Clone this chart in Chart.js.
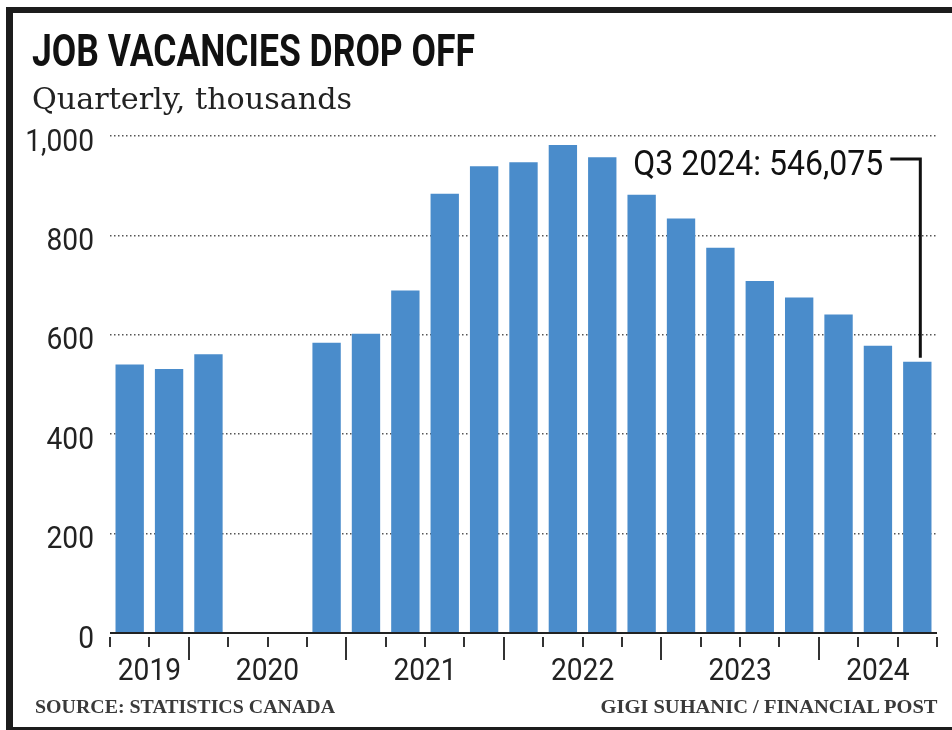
<!DOCTYPE html>
<html><head><meta charset="utf-8">
<script src="https://cdn.jsdelivr.net/npm/chart.js@4.4.1/dist/chart.umd.min.js"></script>
<style>
html,body{margin:0;padding:0;background:#fff;}
#wrap{position:relative;width:952px;height:730px;overflow:hidden;background:#fff;}
#frame{position:absolute;left:6px;top:7px;width:1000px;height:714px;border-left:7px solid #1c1c1c;border-top:6px solid #1c1c1c;border-bottom:6px solid #1c1c1c;}
canvas{position:absolute;left:0;top:0;}
.t{position:absolute;white-space:nowrap;display:inline-block;line-height:1;transform-origin:0 0;}
#title{left:32px;top:29px;font-family:Roboto,sans-serif;font-weight:700;font-size:44px;color:#111;}
#sub{left:32px;top:83.6px;font-family:'DejaVu Serif',serif;font-size:30px;color:#222;}
#src{left:35px;top:697px;font-family:'Liberation Serif',serif;font-weight:700;font-size:19px;color:#3a3a3a;}
#credit{right:15px;top:697px;font-family:'Liberation Serif',serif;font-weight:700;font-size:19px;color:#3a3a3a;transform-origin:100% 0;}
</style></head>
<body>
<div id="wrap">
  <canvas id="c" width="952" height="730"></canvas>
  <div id="frame"></div>
  <div class="t" id="title">JOB VACANCIES DROP OFF</div>
  <div class="t" id="sub">Quarterly, thousands</div>
  <div class="t" id="src">SOURCE: STATISTICS CANADA</div>
  <div class="t" id="credit">GIGI SUHANIC / FINANCIAL POST</div>
</div>
<script>
// ---- data ----
const quarters = ['2019 Q3','2019 Q4',
  '2020 Q1','2020 Q2','2020 Q3','2020 Q4',
  '2021 Q1','2021 Q2','2021 Q3','2021 Q4',
  '2022 Q1','2022 Q2','2022 Q3','2022 Q4',
  '2023 Q1','2023 Q2','2023 Q3','2023 Q4',
  '2024 Q1','2024 Q2','2024 Q3'];
const vacancies = [540, 531,
  561, null, null, 584,
  602, 689, 884, 939,
  947, 982, 957, 882,
  834, 775, 708, 675,
  641, 578, 546];
const yTicks = [0, 200, 400, 600, 800, 1000];
const calloutLabel = 'Q3 2024: 546,075';

// ---- fit HTML text widths ----
function fit(id, w){
  const el = document.getElementById(id);
  const r = el.getBoundingClientRect().width;
  el.style.transform = 'scaleX(' + (w / r) + ')';
}
fit('title', 443); fit('sub', 320); fit('src', 300); fit('credit', 337);

const yearOf = q => q.split(' ')[0];

const decor = {
  id: 'decor',
  afterDraw(chart){
    const {ctx, chartArea: a, scales: {x, y}} = chart;
    const n = quarters.length;
    const y0 = y.getPixelForValue(0);
    ctx.save();
    // baseline
    ctx.strokeStyle = '#222'; ctx.lineWidth = 2;
    ctx.beginPath(); ctx.moveTo(a.left, y0); ctx.lineTo(a.right, y0); ctx.stroke();
    // y labels
    ctx.fillStyle = '#222'; ctx.font = '32px Roboto'; ctx.textAlign = 'right'; ctx.textBaseline = 'alphabetic';
    y.ticks.forEach(t => {
      const py = y.getPixelForValue(t.value);
      ctx.save(); ctx.translate(94, py + 14.5); ctx.scale(0.88, 1);
      ctx.fillText(t.value.toLocaleString('en-US'), 0, 0); ctx.restore();
    });
    // quarter boundaries
    const slot = x.getPixelForValue(1) - x.getPixelForValue(0);
    const bx = i => i < n ? x.getPixelForValue(i) - slot / 2 : x.getPixelForValue(n - 1) + slot / 2;
    ctx.strokeStyle = '#333'; ctx.lineWidth = 2;
    for (let i = 0; i <= n; i++) {
      const major = i > 0 && i < n && yearOf(quarters[i]) !== yearOf(quarters[i - 1]);
      const px = Math.round(bx(i));
      ctx.beginPath(); ctx.moveTo(px, y0 + 4); ctx.lineTo(px, y0 + (major ? 27 : 14)); ctx.stroke();
    }
    // year labels
    const groups = [];
    quarters.forEach((q, i) => {
      const yr = yearOf(q);
      if (!groups.length || groups[groups.length - 1].yr !== yr) groups.push({yr, s: i, e: i});
      else groups[groups.length - 1].e = i;
    });
    ctx.textAlign = 'center';
    groups.forEach(g => {
      const cx = (bx(g.s) + bx(g.e + 1)) / 2;
      ctx.save(); ctx.translate(cx, 680); ctx.scale(0.88, 1); ctx.fillText(g.yr, 0, 0); ctx.restore();
    });
    // callout
    const bar = chart.getDatasetMeta(0).data[n - 1];
    const lx = bar.x + 3, ly = 159;
    ctx.strokeStyle = '#111'; ctx.lineWidth = 3; ctx.lineJoin = 'miter';
    ctx.beginPath(); ctx.moveTo(lx - 30, ly); ctx.lineTo(lx, ly); ctx.lineTo(lx, bar.y - 4); ctx.stroke();
    ctx.font = '35px Roboto'; ctx.fillStyle = '#111'; ctx.textAlign = 'right';
    const w = ctx.measureText(calloutLabel).width;
    ctx.save(); ctx.translate(lx - 37, 175); ctx.scale(250 / w, 1); ctx.fillText(calloutLabel, 0, 0); ctx.restore();
    ctx.restore();
  }
};

new Chart(document.getElementById('c'), {
  type: 'bar',
  data: {
    labels: quarters,
    datasets: [{
      data: vacancies,
      backgroundColor: '#4a8ccb',
      borderWidth: 0,
      barPercentage: 0.72,
      categoryPercentage: 1.0
    }]
  },
  options: {
    responsive: false,
    animation: false,
    layout: {padding: {top: 136, right: 15, left: 0, bottom: 0}},
    plugins: {legend: {display: false}, tooltip: {enabled: false}},
    scales: {
      x: {
        ticks: {display: false},
        grid: {display: false},
        border: {display: false},
        afterFit: s => { s.height = 97; }
      },
      y: {
        min: 0, max: 1000,
        z: 1,
        afterBuildTicks: s => { s.ticks = yTicks.map(v => ({value: v})); },
        ticks: {display: false},
        grid: {
          drawTicks: false,
          lineWidth: 1.5,
          color: c => (c.tick && c.tick.value === 0) ? 'rgba(0,0,0,0)' : '#555'
        },
        border: {display: false, dash: [1.5, 2.5]},
        afterFit: s => { s.width = 110; }
      }
    }
  },
  plugins: [decor]
});
</script>
</body></html>
